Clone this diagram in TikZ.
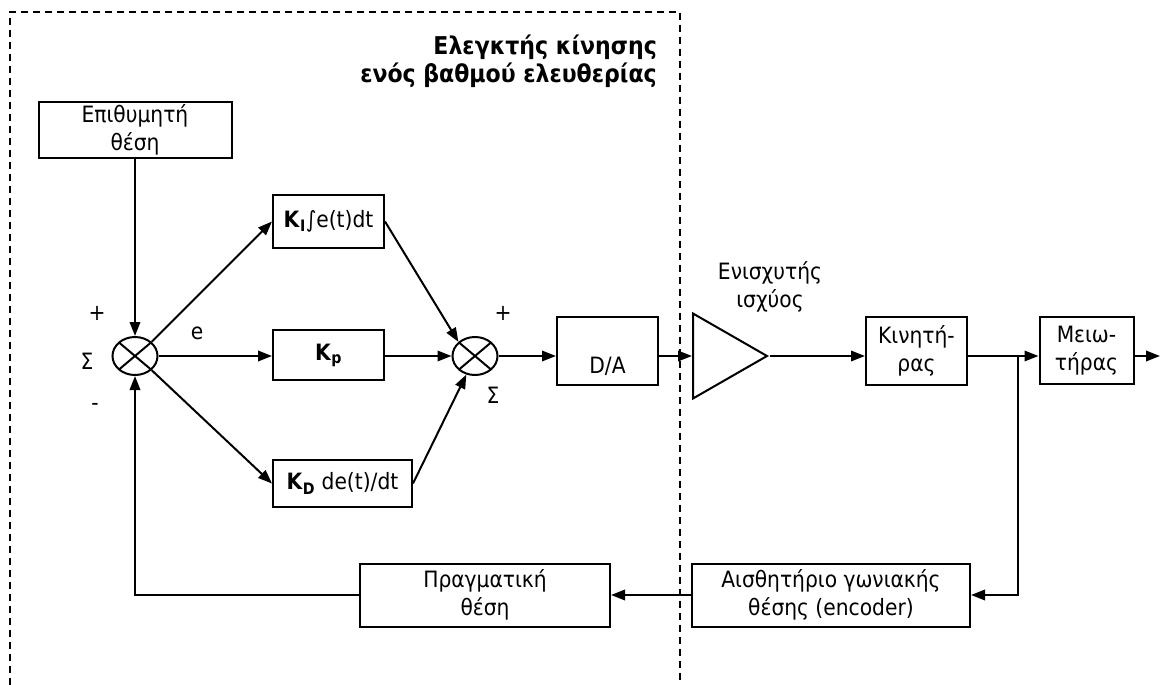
\documentclass[tikz,border=0pt]{standalone}
\usepackage{fontspec}
\setmainfont{DejaVu Sans Condensed}
\usetikzlibrary{shapes.geometric, arrows.meta, positioning, calc}
\newcommand{\gtext}{\fontsize{22.5}{28}\selectfont}
\newcommand{\ttext}{\fontsize{24.5}{28}\selectfont\bfseries}
\tikzset{
    block/.style={rectangle, draw, line width=2pt, align=center, inner sep=2pt, font=\gtext},
    sumnode/.style={ellipse, draw, line width=2pt, minimum width=45pt, minimum height=38pt, inner sep=0pt,
        path picture={\draw[line width=2pt]
            (path picture bounding box.north west) -- (path picture bounding box.south east)
            (path picture bounding box.north east) -- (path picture bounding box.south west);}},
    lbl/.style={align=center, font=\gtext, inner sep=0pt},
    arrow/.style={-{Triangle[length=14pt,width=10.5pt]}, line width=2pt},
    frame/.style={dash pattern=on 7pt off 5pt, line width=1.7pt}
}

\begin{document}
\begin{tikzpicture}[x=1pt, y=-1pt]
    \useasboundingbox (0,0) rectangle (1160,685);

    \draw[frame] (10,685) -- (10,12) -- (680,12) -- (680,685);
    \node[lbl, font=\ttext, align=right, anchor=east] (title) at (657,61) {Ελεγκτής κίνησης\\ενός βαθμού ελευθερίας};

    \node[block, minimum width=193, minimum height=56] (desired) at (135,130) {Επιθυμητή\\θέση};
    \node[sumnode] (sum1) at (135,356) {};
    \node[block, minimum width=111, minimum height=53] (ki) at (328.5,221.5) {\textbf{K}\textsubscript{\textbf{I}}∫e(t)dt};
    \node[block, minimum width=111, minimum height=50] (kp) at (328.5,355) {\textbf{K}\textsubscript{\textbf{p}}};
    \node[block, minimum width=139, minimum height=47] (kd) at (342.5,483.5) {\textbf{K}\textsubscript{\textbf{D}} de(t)/dt};
    \node[sumnode] (sum2) at (475,356) {};
    \node[block, minimum width=101, minimum height=68] (da) at (607.5,350.5) {\vphantom{D}\\[3pt]D/A};

    \node[isosceles triangle, draw, line width=2pt, isosceles triangle stretches,
        minimum width=85, minimum height=74, inner sep=0pt, anchor=west] (amp) at (692,356) {};
    \node[lbl] (amplbl) at (770,287) {Ενισχυτής\\ισχύος};

    \node[block, minimum width=101, minimum height=68] (motor) at (916.5,350.5) {Κινητή-\\ρας};
    \node[block, minimum width=94, minimum height=67] (gear) at (1086.5,350.5) {Μειω-\\τήρας};
    \node[block, minimum width=278, minimum height=63] (enc) at (831,595) {Αισθητήριο γωνιακής\\θέσης (encoder)};
    \node[block, minimum width=250, minimum height=63] (actual) at (485,595) {Πραγματική\\θέση};

    \node[lbl] (plus1) at (97,313) {+};
    \node[lbl] (sigma1) at (87,361) {Σ};
    \node[lbl] (minus1) at (95,407) {-};
    \node[lbl] (err) at (197,333) {e};
    \node[lbl] (plus2) at (503,313) {+};
    \node[lbl] (sigma2) at (493,395) {Σ};

    \coordinate (split) at (1018,356);
    \coordinate (out) at (1160,356);

    \draw[arrow] (desired) -- (sum1);
    \draw[arrow] (sum1.north east) -- (ki.west);
    \draw[arrow] (sum1.east) -- (sum1.east -| kp.west);
    \draw[arrow] (sum1.south east) -- (kd.west);
    \draw[arrow] (ki.east) -- (sum2.north west);
    \draw[arrow] (sum2.west -| kp.east) -- (sum2.west);
    \draw[arrow] (kd.east) -- (sum2.-115);
    \draw[arrow] (sum2.east) -- (sum2.east -| da.west);
    \draw[arrow] (sum2.east -| da.east) -- (amp.west);
    \draw[arrow] (amp.apex) -- (amp.apex -| motor.west);
    \draw[arrow] (amp.apex -| motor.east) -- (amp.apex -| gear.west);
    \draw[arrow] (amp.apex -| gear.east) -- (out);
    \draw[arrow] (split) |- (enc.east);
    \draw[arrow] (enc) -- (actual);
    \draw[arrow] (actual.west) -| (sum1.south);

\end{tikzpicture}
\end{document}
